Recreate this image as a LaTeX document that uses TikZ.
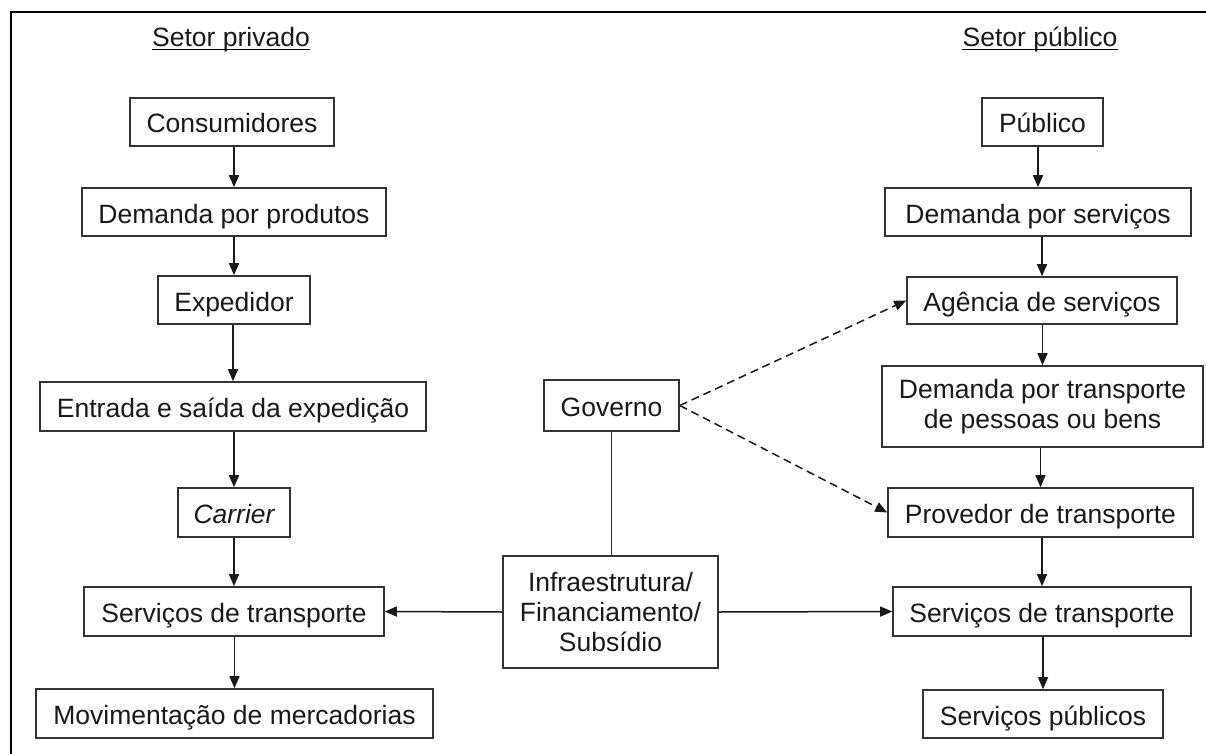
\documentclass[tikz,border=0pt]{standalone}
\usepackage{fontspec}
\setmainfont{Liberation Sans}
\usetikzlibrary{arrows.meta}
\begin{document}
\begin{tikzpicture}[x=1pt,y=-1pt,
  txt/.style={font=\fontsize{26.5}{30}\selectfont,text=black!90},
  box/.style={txt,draw=black!80,line width=1.6pt,inner sep=0pt,text height=22pt,text depth=0pt,minimum height=48pt},
  mbox/.style={txt,draw=black!80,line width=1.6pt,inner sep=0pt,align=center},
  titletext/.style={txt,inner sep=0pt},
  arr/.style={-{Triangle[length=12pt,width=10pt]},line width=1.5pt,black!90},
  dasharr/.style={arr,dash pattern=on 8pt off 5pt},
  plain/.style={line width=1.5pt,black!80}
]
\useasboundingbox (0,0) rectangle (1206,754);
\draw[line width=1.8pt] (11,754) -- (11,12) -- (1206,12);

% titles
\node[titletext,anchor=base] (t1) at (231,47) {Setor privado};
\draw[line width=1.2pt] ([yshift=-2.5pt]t1.base west) -- ([yshift=-2.5pt]t1.base east);
\node[titletext,anchor=base] (t2) at (1040,47) {Setor público};
\draw[line width=1.2pt] ([yshift=-2.5pt]t2.base west) -- ([yshift=-2.5pt]t2.base east);

% left column
\node[box,minimum width=204pt] (c1) at (232,122) {Consumidores};
\node[box,minimum width=304pt] (c2) at (234,212) {Demanda por produtos};
\node[box,minimum width=152pt] (c3) at (234,300) {Expedidor};
\node[box,minimum width=386pt,minimum height=49pt] (c4) at (233,406.5) {Entrada e saída da expedição};
\node[box,minimum width=112pt,minimum height=49pt] (c5) at (234,512.5) {\itshape Carrier};
\node[box,minimum width=300pt,minimum height=49pt] (c6) at (234,611.5) {Serviços de transporte};
\node[box,minimum width=397pt,minimum height=49pt] (c7) at (234.5,713.5) {Movimentação de mercadorias};

% middle
\node[box,minimum width=135pt,minimum height=51pt] (g) at (611.5,405.5) {Governo};
\node[mbox,minimum width=215pt,minimum height=112pt] (inf) at (610.5,612) {Infraestrutura/\\Financiamento/\\Subsídio};

% right column
\node[box,minimum width=121pt] (r1) at (1042.5,122) {Público};
\node[box,minimum width=306pt] (r2) at (1038,212) {Demanda por serviços};
\node[box,minimum width=270pt,minimum height=47pt] (r3) at (1042,300.5) {Agência de serviços};
\node[mbox,minimum width=321pt,minimum height=81pt] (r4) at (1042.5,406.5) {Demanda por transporte\\de pessoas ou bens};
\node[box,minimum width=305pt,minimum height=49pt] (r5) at (1040.5,512.5) {Provedor de transporte};
\node[box,minimum width=298pt,minimum height=49pt] (r6) at (1042,611.5) {Serviços de transporte};
\node[box,minimum width=240pt,minimum height=48pt] (r7) at (1043,714) {Serviços públicos};

% left arrows
\draw[arr] (c1.south -| c2.north) -- (c2.north);
\draw[arr] (c2.south -| c3.north) -- (c3.north);
\draw[arr] (c3.south -| c4.north) -- (c4.north);
\draw[arr] (c4.south -| c5.north) -- (c5.north);
\draw[arr] (c5.south -| c6.north) -- (c6.north);
\draw[arr] (c6.south -| c7.north) -- (c7.north);

% right arrows
\draw[arr] (r1.south -| r2.north) -- (r2.north);
\draw[arr] (r2.south -| r3.north) -- (r3.north);
\draw[arr] (r3.south -| r4.north) -- (r4.north);
\draw[arr] (r4.south -| r5.north) -- (r5.north);
\draw[arr] (r5.south -| r6.north) -- (r6.north);
\draw[arr] (r6.south -| r7.north) -- (r7.north);

% middle connectors
\draw[plain] (g.south) -- (g.south |- inf.north);
\draw[dasharr] (g.east) -- (r3.west);
\draw[dasharr] (g.east) -- (r5.west);
\draw[arr] (inf.west) -- (c6.east);
\draw[arr] (inf.east) -- (r6.west);
\end{tikzpicture}
\end{document}
